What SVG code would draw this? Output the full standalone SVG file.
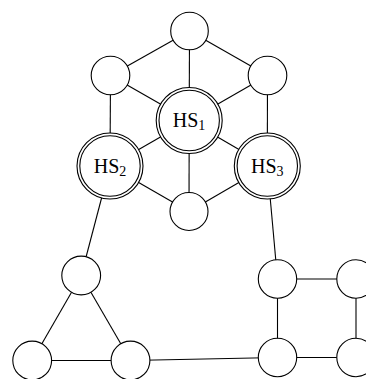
<svg xmlns="http://www.w3.org/2000/svg" width="366" height="379" viewBox="0 0 366 379">
<style>
.e{stroke:#000;stroke-width:1.1;fill:none}
.n{fill:#fff;stroke:#000;stroke-width:1.1}
.i{fill:none;stroke:#000;stroke-width:1.1}
.t{font-family:"Liberation Serif","DejaVu Serif",serif;font-size:20px;fill:#000;text-anchor:middle}
</style>
<rect width="366" height="379" fill="#fff"/>
<g id="connectors">
<line class="e" x1="189.5" y1="31" x2="110.5" y2="75.5"/>
<line class="e" x1="189.5" y1="31" x2="267.5" y2="75.5"/>
<line class="e" x1="189.5" y1="31" x2="189.2" y2="120.5"/>
<line class="e" x1="110.5" y1="75.5" x2="189.2" y2="120.5"/>
<line class="e" x1="267.5" y1="75.5" x2="189.2" y2="120.5"/>
<line class="e" x1="110.5" y1="75.5" x2="110" y2="166"/>
<line class="e" x1="267.5" y1="75.5" x2="267.3" y2="166"/>
<line class="e" x1="189.2" y1="120.5" x2="110" y2="166"/>
<line class="e" x1="189.2" y1="120.5" x2="267.3" y2="166"/>
<line class="e" x1="189.2" y1="120.5" x2="189" y2="211.5"/>
<line class="e" x1="110" y1="166" x2="189" y2="211.5"/>
<line class="e" x1="267.3" y1="166" x2="189" y2="211.5"/>
<line class="e" x1="110" y1="166" x2="81.2" y2="275.5"/>
<line class="e" x1="267.3" y1="166" x2="277.5" y2="279"/>
<line class="e" x1="81.2" y1="275.5" x2="32.2" y2="360.5"/>
<line class="e" x1="81.2" y1="275.5" x2="130.5" y2="360.5"/>
<line class="e" x1="32.2" y1="360.5" x2="130.5" y2="360.5"/>
<line class="e" x1="130.5" y1="360.5" x2="277.5" y2="357.5"/>
<line class="e" x1="277.5" y1="279" x2="356" y2="279"/>
<line class="e" x1="277.5" y1="279" x2="277.5" y2="357.5"/>
<line class="e" x1="356" y1="279" x2="356" y2="357.5"/>
<line class="e" x1="277.5" y1="357.5" x2="356" y2="357.5"/>
</g>
<g id="top"><circle class="n" cx="189.5" cy="31" r="18.8"/></g>
<g id="upper-left"><circle class="n" cx="110.5" cy="75.5" r="19.3"/></g>
<g id="upper-right"><circle class="n" cx="267.5" cy="75.5" r="19.3"/></g>
<g id="HS1"><circle class="n" cx="189.2" cy="120.5" r="33"/><circle class="i" cx="189.2" cy="120.5" r="30.2"/><text class="t" x="189" y="127">HS<tspan font-size="14" dy="3">1</tspan></text></g>
<g id="HS2"><circle class="n" cx="110" cy="166" r="33"/><circle class="i" cx="110" cy="166" r="30.2"/><text class="t" x="110" y="172.5">HS<tspan font-size="14" dy="3">2</tspan></text></g>
<g id="HS3"><circle class="n" cx="267.3" cy="166" r="33"/><circle class="i" cx="267.3" cy="166" r="30.2"/><text class="t" x="267.3" y="172.5">HS<tspan font-size="14" dy="3">3</tspan></text></g>
<g id="bottom-center"><circle class="n" cx="189" cy="211.5" r="19"/></g>
<g id="tri-top"><circle class="n" cx="81.2" cy="275.5" r="19.4"/></g>
<g id="tri-left"><circle class="n" cx="32.2" cy="360.5" r="19.4"/></g>
<g id="tri-right"><circle class="n" cx="130.5" cy="360.5" r="19.4"/></g>
<g id="sq-tl"><circle class="n" cx="277.5" cy="279" r="19.2"/></g>
<g id="sq-tr"><circle class="n" cx="356" cy="279" r="19.2"/></g>
<g id="sq-bl"><circle class="n" cx="277.5" cy="357.5" r="19.2"/></g>
<g id="sq-br"><circle class="n" cx="356" cy="357.5" r="19.2"/></g>
</svg>
